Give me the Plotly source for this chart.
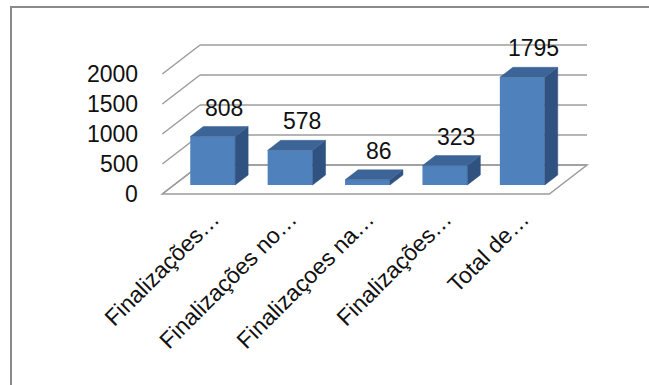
import plotly.graph_objects as go

# Chart data
categories = ["Finalizações…", "Finalizações no…", "Finalizaçoes na…", "Finalizações…", "Total de…"]
values = [808, 578, 86, 323, 1795]
y_ticks = [0, 500, 1000, 1500, 2000]

# Canvas / plot-area geometry (pixels)
W, H = 649, 385
ML, MR, MT, MB = 150, 49, 30, 185
CAT_PX = 77.4        # width of one category on the front plane
UNIT_PX = 0.06       # pixels per value unit
X_LEFT_PX = 174      # pixel of category edge -0.5 on the front plane
Y_ZERO_PX = 185      # pixel of value 0 on the front plane

x_range = [-0.5 + (ML - X_LEFT_PX) / CAT_PX, -0.5 + (W - MR - X_LEFT_PX) / CAT_PX]
y_range = [(Y_ZERO_PX - (H - MB)) / UNIT_PX, (Y_ZERO_PX - MT) / UNIT_PX]

# Oblique depth of the back wall, expressed in data units
DX = 26 / CAT_PX
DY = 20 / UNIT_PX
BAR_DEPTH = 0.5      # bars occupy half of the depth
FLOOR_FRONT = -0.45  # floor front edge sits in front of the bars
BAR_W = 0.58

FRONT = "#4F81BD"
TOP = "#3D6496"
SIDE = "#2F5280"
GRID = "#9c9c9c"
FONT = "Liberation Sans, Arial, sans-serif"


def path(points):
    return "M " + " L ".join(f"{x},{y}" for x, y in points) + " Z"


def px_to_paper_x(px):
    return (px - ML) / (W - ML - MR)


def px_to_paper_y(py):
    return (H - MB - py) / (H - MT - MB)


shapes = []
fx, fy = FLOOR_FRONT * DX, FLOOR_FRONT * DY
x_lo, x_hi = -0.5, len(values) - 0.5

# Floor
shapes.append(dict(
    type="path", layer="below", fillcolor="white",
    line=dict(color=GRID, width=1.5),
    path=path([(x_lo + fx, fy), (x_hi + fx, fy), (x_hi + DX, DY), (x_lo + DX, DY)]),
))

# Back-wall gridlines and left-wall diagonals
for v in y_ticks:
    shapes.append(dict(type="line", layer="below", line=dict(color=GRID, width=1.5),
                       x0=x_lo + DX, y0=v + DY, x1=x_hi + DX, y1=v + DY))
    shapes.append(dict(type="line", layer="below", line=dict(color=GRID, width=1.5),
                       x0=x_lo + fx, y0=v + fy, x1=x_lo + DX, y1=v + DY))

# Top and side faces of each bar
bx, by = BAR_DEPTH * DX, BAR_DEPTH * DY
for i, v in enumerate(values):
    x0, x1 = i - BAR_W / 2, i + BAR_W / 2
    shapes.append(dict(type="path", layer="above", fillcolor=SIDE,
                       line=dict(color=SIDE, width=0.5),
                       path=path([(x1, 0), (x1, v), (x1 + bx, v + by), (x1 + bx, by)])))
    shapes.append(dict(type="path", layer="above", fillcolor=TOP,
                       line=dict(color=TOP, width=0.5),
                       path=path([(x0, v), (x1, v), (x1 + bx, v + by), (x0 + bx, v + by)])))

# Outer chart border
shapes.append(dict(type="rect", xref="paper", yref="paper",
                   x0=px_to_paper_x(11), x1=px_to_paper_x(670),
                   y0=px_to_paper_y(410), y1=px_to_paper_y(7),
                   line=dict(color="#8a8a8a", width=2), fillcolor="rgba(0,0,0,0)"))

annotations = []
# Value-axis labels on the front edge of the floor plane
for v in y_ticks:
    annotations.append(dict(x=x_lo + fx, y=v + fy, text=str(v), showarrow=False,
                            xanchor="right", yanchor="middle", xshift=-22,
                            font=dict(family=FONT, size=23, color="#111")))

# Data labels above each bar
for i, v in enumerate(values):
    annotations.append(dict(x=i + bx / 2, y=v + by, text=str(v), showarrow=False,
                            xanchor="center", yanchor="middle", xshift=5, yshift=19,
                            font=dict(family=FONT, size=23, color="#111")))

fig = go.Figure(go.Bar(
    x=list(range(len(values))), y=values, width=BAR_W,
    marker=dict(color=FRONT, line=dict(width=0)),
    hoverinfo="skip",
))

fig.update_layout(
    width=W, height=H,
    margin=dict(l=ML, r=MR, t=MT, b=MB, autoexpand=False),
    paper_bgcolor="white", plot_bgcolor="rgba(0,0,0,0)",
    showlegend=False,
    shapes=shapes, annotations=annotations,
    xaxis=dict(range=x_range, tickvals=list(range(len(values))), ticktext=categories,
               tickangle=-45, showgrid=False, zeroline=False, showline=False, ticks="",
               ticklabelstandoff=0,
               tickfont=dict(family=FONT, size=23, color="#111"), fixedrange=True),
    yaxis=dict(range=y_range, showgrid=False, zeroline=False, showline=False,
               showticklabels=False, ticks="", fixedrange=True),
)

fig.write_html("out.html")
